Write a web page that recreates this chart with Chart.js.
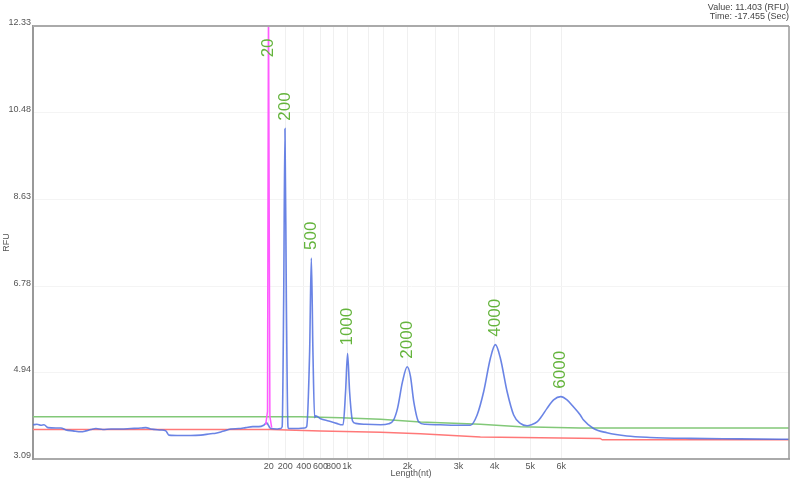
<!DOCTYPE html>
<html>
<head>
<meta charset="utf-8">
<script src="https://cdn.jsdelivr.net/npm/chart.js@4.4.0/dist/chart.umd.min.js"></script>
<style>
    body { margin: 0; background: #fff; }
    #wrap { position: relative; width: 801px; height: 482px; }
    #readout {
        position: absolute; right: 12px; top: 3px;
        font: 9px "Liberation Sans", Arial, sans-serif; line-height: 9px;
        color: #444; text-align: right;
    }
</style>
</head>
<body>
<div id="wrap">
    <canvas id="myChart" width="801" height="482"></canvas>
    <div id="readout">Value: 11.403 (RFU)<br>Time: -17.455 (Sec)</div>
</div>
<script>
// x is migration scan, y is RFU
var blueX = [0, 4, 8, 11, 15, 23, 28, 33, 40, 48, 53, 58, 63, 70, 78, 88, 98, 108, 113, 118, 128, 133, 136, 148, 158, 168, 178, 183, 190, 198, 206, 213, 220, 226, 231, 234, 236, 238, 244, 248,
    249.5, 251, 252.3, 253.7, 255.3, 256, 264, 272, 274, 277, 278.7, 280.3, 282, 283, 288, 296, 304, 309.7, 310.5, 313, 315, 317, 320, 323, 333, 348, 356, 361, 365, 370, 374.7, 378, 381.3, 386.3,
    393, 408, 423, 438, 444.7, 451.3, 458, 463, 468, 474.7, 481.3, 488, 494.7, 499, 504.7, 509, 514.7, 521.3, 528.5, 534.7, 541.3, 548, 551.3, 561.3, 574.7, 594.7, 618, 658, 708, 757];
var blueY = [3.82, 3.83, 3.81, 3.82, 3.76, 3.75, 3.75, 3.71, 3.69, 3.67, 3.69, 3.72, 3.74, 3.72, 3.73, 3.73, 3.74, 3.75, 3.76, 3.73, 3.71, 3.69, 3.60, 3.59, 3.59, 3.60, 3.63, 3.64, 3.68, 3.73, 3.74, 3.76, 3.78, 3.78, 3.81, 3.86, 3.80, 3.74, 3.73, 3.74,
    3.78, 6.46, 10.14, 6.46, 3.78, 3.74, 3.74, 3.75, 3.78, 5.38, 7.38, 5.38, 3.97, 4.01, 3.95, 3.90, 3.85, 3.82, 3.82, 4.53, 5.34, 4.53, 3.90, 3.85, 3.83, 3.82, 3.84, 3.92, 4.17, 4.74, 5.06, 4.85, 4.31, 3.88,
    3.83, 3.82, 3.81, 3.81, 4.03, 4.53, 5.24, 5.53, 5.24, 4.53, 4.03, 3.85, 3.80, 3.82, 3.88, 3.99, 4.17, 4.35, 4.42, 4.35, 4.20, 4.03, 3.92, 3.74, 3.65, 3.58, 3.55, 3.53, 3.52, 3.51];

var markerX = [233, 234.8, 235.8, 236.2, 237.2, 239];
var markerY = [3.82, 4.1, 13.0, 13.0, 4.0, 3.76];

var upperX = [0, 268, 308, 348, 388, 448, 488, 548, 757];
var upperY = [3.99, 3.99, 3.97, 3.94, 3.88, 3.83, 3.78, 3.75, 3.75];

var lowerX = [0, 238, 288, 348, 388, 448, 528, 568, 570, 757];
var lowerY = [3.72, 3.72, 3.69, 3.66, 3.63, 3.56, 3.54, 3.53, 3.50, 3.50];

var peakLabels = ['20', '200', '500', '1000', '2000', '4000', '6000'];
var peakX = [236, 252.3, 278.7, 315, 374.7, 463, 528.5];
var peakY = [11.49, 10.14, 7.38, 5.34, 5.06, 5.53, 4.42];

var xTickPos = [236, 252.5, 271, 288, 301, 314.5, 336, 351, 375, 403, 426, 462, 498, 529];
var xTickLabels = ['20', '200', '400', '600', '800', '1k', '', '', '2k', '', '3k', '4k', '5k', '6k'];
var yTicks = [3.09, 4.94, 6.78, 8.63, 10.48, 12.33];

var FONT = '"Liberation Sans", Arial, sans-serif';

function points(xs, ys) {
    var out = [];
    for (var i = 0; i < xs.length; i++) {
        out.push({x: xs[i], y: ys[i]});
    }
    return out;
}

var framePlugin = {
    id: 'frame',
    afterDatasetsDraw: function(chart) {
        var ctx = chart.ctx;
        var a = chart.chartArea;
        var xs = chart.scales.x;
        var ys = chart.scales.y;
        ctx.save();
        ctx.fillStyle = '#64b43c';
        ctx.font = '17px ' + FONT;
        ctx.textAlign = 'left';
        ctx.textBaseline = 'middle';
        for (var i = 0; i < peakLabels.length; i++) {
            var px = xs.getPixelForValue(peakX[i]);
            var py = ys.getPixelForValue(peakY[i]);
            ctx.save();
            ctx.translate(px, py - 8);
            ctx.rotate(-Math.PI / 2);
            ctx.fillText(peakLabels[i], 0, 0);
            ctx.restore();
        }
        ctx.strokeStyle = '#aaa';
        ctx.lineWidth = 2;
        ctx.beginPath();
        ctx.moveTo(a.left, a.top);
        ctx.lineTo(a.right, a.top);
        ctx.stroke();
        ctx.strokeStyle = '#999';
        ctx.lineWidth = 1.5;
        ctx.beginPath();
        ctx.moveTo(a.right, a.top);
        ctx.lineTo(a.right, a.bottom);
        ctx.stroke();
        ctx.restore();
    }
};

var chartCtx = document.getElementById('myChart');
var myChart = new Chart(chartCtx, {
    type: 'line',
    data: {
        datasets: [
            {
                label: 'marker',
                data: points(markerX, markerY),
                borderColor: 'rgb(255, 90, 255)',
                borderWidth: 1.5,
                pointRadius: 0,
                order: 0
            },
            {
                label: 'sample',
                data: points(blueX, blueY),
                borderColor: 'rgba(80, 110, 225, 0.85)',
                borderWidth: 1.6,
                pointRadius: 0,
                cubicInterpolationMode: 'monotone',
                order: 1
            },
            {
                label: 'upper',
                data: points(upperX, upperY),
                borderColor: 'rgb(130, 200, 120)',
                borderWidth: 1.5,
                pointRadius: 0,
                order: 2
            },
            {
                label: 'lower',
                data: points(lowerX, lowerY),
                borderColor: 'rgb(255, 120, 120)',
                borderWidth: 1.5,
                pointRadius: 0,
                order: 3
            }
        ]
    },
    options: {
        responsive: false,
        animation: false,
        devicePixelRatio: 1,
        layout: { padding: { top: 26, right: 12, left: 0, bottom: 0 } },
        plugins: { legend: { display: false }, tooltip: { enabled: false } },
        scales: {
            x: {
                type: 'linear',
                min: 0,
                max: 757,
                afterBuildTicks: function(s) {
                    s.ticks = xTickPos.map(function(v) { return {value: v}; });
                },
                afterFit: function(s) { s.height = 23; },
                ticks: {
                    autoSkip: false,
                    maxRotation: 0,
                    padding: 2,
                    color: '#555',
                    font: { size: 9, family: FONT },
                    callback: function(v, i) { return xTickLabels[i]; }
                },
                grid: { color: '#f0f0f0', drawTicks: false },
                border: { color: '#aaa', width: 2 },
                title: {
                    display: true,
                    text: 'Length(nt)',
                    color: '#555',
                    font: { size: 9, family: FONT },
                    padding: { top: 0, bottom: 3 }
                }
            },
            y: {
                min: 3.09,
                max: 12.33,
                afterBuildTicks: function(s) {
                    s.ticks = yTicks.map(function(v) { return {value: v}; });
                },
                afterFit: function(s) { s.width = 33; },
                ticks: {
                    padding: 2,
                    labelOffset: -3,
                    color: '#555',
                    font: { size: 9, family: FONT },
                    callback: function(v) { return v.toFixed(2); }
                },
                grid: { color: '#f4f4f4', drawTicks: false },
                border: { color: '#999', width: 2 },
                title: {
                    display: true,
                    text: 'RFU',
                    color: '#555',
                    font: { size: 9, family: FONT },
                    padding: { top: 1, bottom: 0 }
                }
            }
        }
    },
    plugins: [framePlugin]
});
</script>
</body>
</html>
